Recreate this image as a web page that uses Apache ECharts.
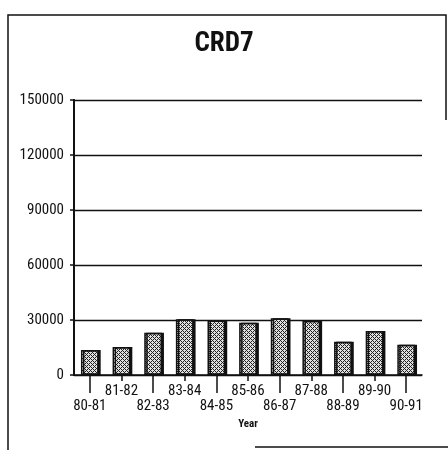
<!DOCTYPE html>
<html>
<head>
<meta charset="utf-8">
<script src="https://cdn.jsdelivr.net/npm/echarts@6/dist/echarts.min.js"></script>
<style>
    html, body { margin: 0; padding: 0; background: #fff; }
    #chart { width: 448px; height: 450px; }
</style>
</head>
<body>
<div id="chart"></div>
<script>
    const years = ['80-81', '81-82', '82-83', '83-84', '84-85', '85-86', '86-87', '87-88', '88-89', '89-90', '90-91']
    const values = [13600, 15300, 23000, 30400, 29700, 28500, 31000, 29600, 18100, 24000, 16500]
    const yTicks = [0, 30000, 60000, 90000, 120000, 150000]

    const font = '"Liberation Sans Narrow", "Roboto Condensed", "Liberation Sans", sans-serif'

    // checkered fill like the scanned hatch
    function makePattern() {
        const c = document.createElement('canvas')
        c.width = 4
        c.height = 4
        const ctx = c.getContext('2d')
        ctx.fillStyle = '#e0e0e0'
        ctx.fillRect(0, 0, 4, 4)
        ctx.fillStyle = '#222'
        for (let x = 0; x < 4; x++) {
            for (let y = 0; y < 4; y++) {
                if ((x + y) % 4 === 0 || (x - y + 4) % 4 === 0) ctx.fillRect(x, y, 1, 1)
            }
        }
        return c
    }

    const chart = echarts.init(document.getElementById('chart'))
    chart.setOption({
        animation: false,
        title: {
            text: 'CRD7',
            left: 'center',
            top: 26,
            textStyle: { fontFamily: font, fontSize: 27, fontWeight: 'bold', color: '#111' }
        },
        graphic: [
            {
                type: 'polyline',
                shape: { points: [[8, 450], [8, 15], [446, 15], [446, 120]] },
                style: { stroke: '#111', lineWidth: 1.5, fill: null }
            },
            {
                type: 'line',
                shape: { x1: 255, y1: 447, x2: 448, y2: 447 },
                style: { stroke: '#111', lineWidth: 1.5 }
            }
        ],
        grid: { left: 74, right: 26, top: 100, bottom: 75 },
        xAxis: [
            {
                type: 'category',
                data: years,
                name: 'Year',
                nameLocation: 'middle',
                nameGap: 30,
                nameTextStyle: { fontFamily: font, fontSize: 11, fontWeight: 'bold', color: '#111' },
                axisLine: { lineStyle: { color: '#111', width: 1.5 } },
                axisTick: {
                    show: true,
                    alignWithLabel: true,
                    length: 18,
                    interval: (i) => i % 2 === 0,
                    lineStyle: { color: '#111', width: 1.5 }
                },
                axisLabel: {
                    interval: 0,
                    margin: 9,
                    fontFamily: font,
                    fontSize: 15,
                    color: '#111',
                    lineHeight: 15,
                    formatter: (v, i) => (i % 2 === 0 ? '\n' + v : v)
                }
            },
            {
                type: 'category',
                data: years,
                position: 'bottom',
                axisLine: { show: false },
                axisTick: {
                    show: true,
                    alignWithLabel: true,
                    length: 6,
                    interval: (i) => i % 2 === 1,
                    lineStyle: { color: '#111', width: 1.5 }
                },
                axisLabel: { show: false }
            }
        ],
        yAxis: [
            {
                type: 'value',
                min: 0,
                max: 150000,
                interval: 30000,
                axisLine: { show: true, lineStyle: { color: '#111', width: 2 } },
                axisTick: { show: true, length: 4, lineStyle: { color: '#111', width: 1.5 } },
                splitLine: { lineStyle: { color: '#111', width: 1.3 } },
                axisLabel: {
                    margin: 10,
                    fontFamily: font,
                    fontSize: 15,
                    color: '#111',
                    formatter: (v) => (yTicks.includes(v) ? String(v) : '')
                }
            },
            {
                // plain copy of the value axis, only to draw the vertical axis line
                type: 'value',
                position: 'left',
                min: 0,
                max: 150000,
                interval: 30000,
                axisLine: { show: true, lineStyle: { color: '#111', width: 2 } },
                axisLabel: { show: false },
                splitLine: { show: false }
            }
        ],
        series: [
            {
                type: 'bar',
                data: values,
                yAxisIndex: 0,
                barWidth: '56%',
                itemStyle: {
                    color: { image: makePattern(), repeat: 'repeat' },
                    borderColor: '#111',
                    borderWidth: 1.5,
                    shadowColor: '#111',
                    shadowBlur: 0,
                    shadowOffsetX: 2
                }
            }
        ]
    })
</script>
</body>
</html>
